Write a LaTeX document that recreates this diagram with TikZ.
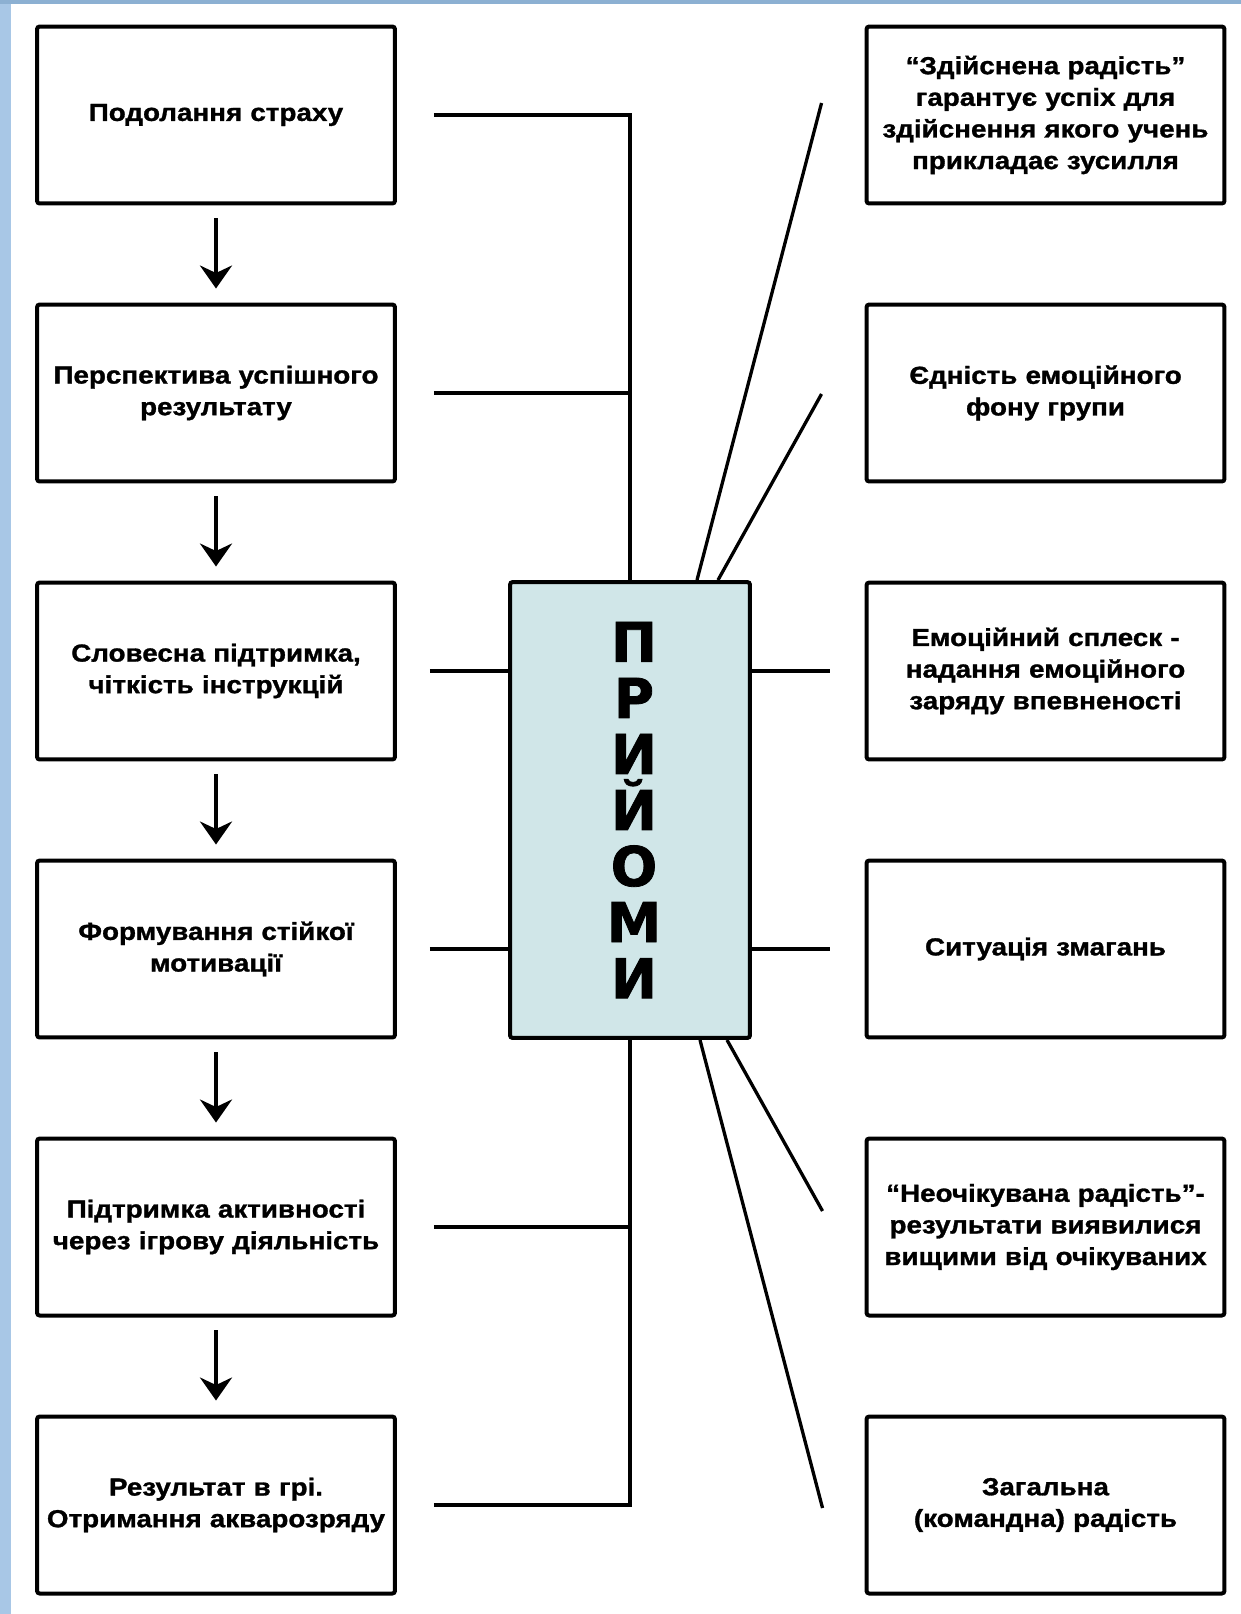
\documentclass[tikz,border=0pt]{standalone}
\usepackage{fontspec}
\setmainfont{Liberation Sans}
\newfontfamily\boxfont{Liberation Sans}[FakeStretch=1.13, BoldFeatures={FakeBold=1.2}]
\newfontfamily\priyomyfont{DejaVu Sans}[BoldFeatures={FakeBold=1.4}]
\usepackage{tikz}
\usetikzlibrary{calc, positioning, arrows.meta}
\definecolor{priyomyfill}{RGB}{208,230,232}
\definecolor{edgeblue}{RGB}{168,199,230}
\definecolor{topblue}{RGB}{140,176,210}

\begin{document}
\begin{tikzpicture}[x=0.02cm,y=-0.02cm,
    box/.style={draw, line width=0.08cm, rounded corners=1.5pt, minimum width=7.16cm,
        minimum height=3.54cm, align=center, text width=6.9cm,
        font=\boxfont\bfseries\fontsize{14}{18}\selectfont},
    link/.style={line width=0.066cm},
    flow/.style={-{Stealth[length=0.46cm,width=0.64cm,inset=0.15cm]}, line width=0.08cm,
        shorten <=0.26cm, shorten >=0.28cm}]
        \fill[white] (0,0) rectangle (1241,1614);
        \useasboundingbox (0,0) rectangle (1241,1614);
        \fill[edgeblue] (0,0) rectangle (11,1614);
        \fill[topblue] (0,0) rectangle (1241,4);
        % left column
        \node[box] (l1) at (216,115) {Подолання страху};
        \node[box] (l2) at (216,393) {Перспектива успішного\\результату};
        \node[box] (l3) at (216,671) {Словесна підтримка,\\чіткість інструкцій};
        \node[box] (l4) at (216,949) {Формування стійкої\\мотивації};
        \node[box] (l5) at (216,1227) {Підтримка активності\\через ігрову діяльність};
        \node[box] (l6) at (216,1505) {Результат в грі.\\Отримання акварозряду};
        % right column
        \node[box] (r1) at (1045.5,115) {“Здійснена радість”\\гарантує успіх для\\здійснення якого учень\\прикладає зусилля};
        \node[box] (r2) at (1045.5,393) {Єдність емоційного\\фону групи};
        \node[box] (r3) at (1045.5,671) {Емоційний сплеск -\\надання емоційного\\заряду впевненості};
        \node[box] (r4) at (1045.5,949) {Ситуація змагань};
        \node[box] (r5) at (1045.5,1227) {“Неочікувана радість”-\\результати виявилися\\вищими від очікуваних};
        \node[box] (r6) at (1045.5,1505) {Загальна\\(командна) радість};
        % centre
        \node[draw, line width=0.08cm, rounded corners=1.5pt, fill=priyomyfill,
            minimum width=4.8cm, minimum height=9.12cm, align=center,
            font=\priyomyfont\bfseries\fontsize{31.2}{31.9}\selectfont]
            (pr) at (630,810) {\hspace*{0.16cm}П\\\hspace*{0.16cm}Р\\\hspace*{0.16cm}И\\\hspace*{0.16cm}Й\\\hspace*{0.16cm}О\\\hspace*{0.16cm}М\\\hspace*{0.16cm}И};
        \foreach \a/\b in {l1/l2,l2/l3,l3/l4,l4/l5,l5/l6}
        \draw[flow] (\a) -- (\b);
        \foreach \i in {1,2,5,6}
        \coordinate (s\i) at ($(l\i.east)+(37,0)$);
        \foreach \i in {3,4}
        \coordinate (s\i) at ($(l\i.east)+(33,0)$);
        \draw[link] (s1) -- (s1 -| pr.north) -- (pr.north);
        \draw[link] (s6) -- (s6 -| pr.south) -- (pr.south);
        \foreach \i in {2,5}
        \draw[link] (s\i) -- (s\i -| pr.north);
        \foreach \i in {3,4}
        \draw[link] (s\i) -- (pr.west |- s\i);
        % right side
        \foreach \i in {3,4}
        \coordinate (e\i) at ($(r\i.west)+(-35,0)$);
        \coordinate (e1) at ($(r1.west)+(-43,-12)$);
        \coordinate (e2) at ($(r2.west)+(-43,1)$);
        \coordinate (e5) at ($(r5.west)+(-42,-16)$);
        \coordinate (e6) at ($(r6.west)+(-42,3)$);
        \foreach \i in {3,4}
        \draw[link] (pr.east |- e\i) -- (e\i);
        \draw[link] ($(pr.north)+(67,0)$) -- (e1);
        \draw[link] ($(pr.north)+(88,0)$) -- (e2);
        \draw[link] ($(pr.south)+(97,0)$) -- (e5);
        \draw[link] ($(pr.south)+(70,0)$) -- (e6);
    \end{tikzpicture}
\end{document}
